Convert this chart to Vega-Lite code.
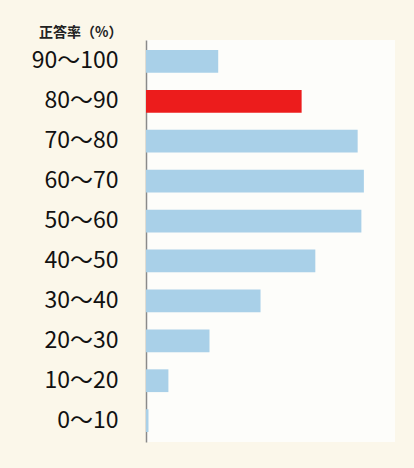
{
  "$schema": "https://vega.github.io/schema/vega-lite/v6.json",
  "width": 249,
  "height": 402,
  "autosize": "none",
  "padding": {"left": 146, "top": 40, "right": 19, "bottom": 26},
  "background": "#fbf7ea",
  "config": {
    "view": {"fill": "#fdfdfa", "stroke": null},
    "font": "Noto Sans CJK JP"
  },
  "data": {
    "values": [
      {"range": "90〜100", "share": 5.8},
      {"range": "80〜90", "share": 12.5},
      {"range": "70〜80", "share": 17.0},
      {"range": "60〜70", "share": 17.5},
      {"range": "50〜60", "share": 17.3},
      {"range": "40〜50", "share": 13.6},
      {"range": "30〜40", "share": 9.2},
      {"range": "20〜30", "share": 5.1},
      {"range": "10〜20", "share": 1.8},
      {"range": "0〜10", "share": 0.2}
    ]
  },
  "mark": {"type": "bar"},
  "encoding": {
    "y": {
      "field": "range",
      "type": "nominal",
      "sort": null,
      "scale": {"paddingInner": 0.43, "paddingOuter": 0.25},
      "axis": {
        "title": "正答率（%）",
        "titleAngle": 0,
        "titleAlign": "right",
        "titleBaseline": "bottom",
        "titleX": -24,
        "titleY": -1,
        "titleFontSize": 14,
        "titleFontWeight": "bold",
        "titleColor": "#222222",
        "labelFontSize": 23,
        "labelFontWeight": "normal",
        "labelColor": "#111111",
        "labelPadding": 28,
        "ticks": false,
        "domainColor": "#8a8a8a",
        "domainWidth": 1.5,
        "grid": false
      }
    },
    "x": {
      "field": "share",
      "type": "quantitative",
      "scale": {"domain": [0, 20]},
      "axis": null
    },
    "color": {
      "condition": {"test": "datum.range === '80〜90'", "value": "#ec1c1c"},
      "value": "#a9d0e8"
    }
  }
}
